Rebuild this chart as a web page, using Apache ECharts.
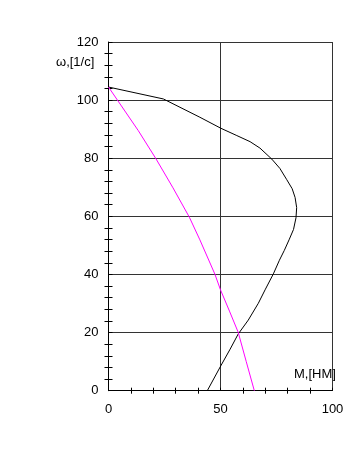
<!DOCTYPE html>
<html>
<head>
<meta charset="utf-8">
<script src="https://cdn.jsdelivr.net/npm/echarts@6/dist/echarts.min.js"></script>
<style>
  html, body { margin: 0; padding: 0; background: #fff; }
  #chart { width: 353px; height: 470px; }
</style>
</head>
<body>
<div id="chart"></div>
<script>
// M, [HM]  vs  omega, [1/c]
var blackM = [0, 24.5, 40.8, 50.2, 57.0, 63.2, 67.6, 72.9, 76.5, 79.6, 82.0, 83.3, 84.0, 83.7, 82.6, 80.6, 78.5, 76.3, 73.6, 69.9, 66.9, 62.4, 57.9, 54.3, 50.3, 44.1];
var blackW = [104.5, 100.4, 94.1, 90.3, 87.9, 85.7, 83.5, 79.7, 76.5, 72.6, 69.5, 66.5, 63.0, 59.5, 55.5, 51.9, 48.3, 44.9, 40.2, 34.7, 30.1, 24.3, 19.5, 14.3, 8.8, 0];
var pinkM = [0, 13.3, 21.2, 28.8, 36.1, 40.8, 47.5, 50, 54.0, 57.9, 61.5, 65.1];
var pinkW = [104.5, 89.5, 79.8, 69.8, 59.7, 51.9, 40.1, 34.7, 27.4, 20.1, 10.0, 0];
var xLabels = [0, 50, 100];

function pairs(xs, ys) {
  return xs.map(function (x, i) { return [x, ys[i]]; });
}

var chart = echarts.init(document.getElementById('chart'));
var font = 'Liberation Sans, Arial, sans-serif';

var options = {
  animation: false,
  grid: { left: 108.5, right: 20.5, top: 42, bottom: 79.3 },
  xAxis: [
    {
      type: 'value', min: 0, max: 100, interval: 50,
      axisLine: { lineStyle: { color: '#000', width: 1 } },
      axisTick: { show: false },
      minorTick: { show: true, splitNumber: 5, length: 3, lineStyle: { color: '#000' } },
      axisLabel: { color: '#000', fontFamily: font, fontSize: 13, margin: 12,
        formatter: function (v) { return xLabels.indexOf(v) >= 0 ? v : ''; } },
      splitLine: { show: true, lineStyle: { color: '#333', width: 1 } }
    },
    {
      type: 'value', min: 0, max: 100, interval: 50, position: 'bottom',
      axisLine: { show: false },
      axisTick: { show: true, inside: true, length: 3, lineStyle: { color: '#000' } },
      minorTick: { show: true, splitNumber: 5, length: 3, lineStyle: { color: '#000' } },
      axisLabel: { show: false },
      splitLine: { show: false }
    }
  ],
  yAxis: [
    {
      type: 'value', min: 0, max: 120, interval: 20,
      axisLine: { show: true, lineStyle: { color: '#000', width: 1 } },
      axisTick: { show: false },
      minorTick: { show: true, splitNumber: 5, length: 4, lineStyle: { color: '#000' } },
      axisLabel: { color: '#000', fontFamily: font, fontSize: 13, margin: 10 },
      splitLine: { show: true, lineStyle: { color: '#333', width: 1 } }
    },
    {
      type: 'value', min: 0, max: 120, interval: 20, position: 'left',
      axisLine: { show: false },
      axisTick: { show: true, inside: true, length: 4, lineStyle: { color: '#000' } },
      minorTick: { show: true, splitNumber: 5, length: 4, lineStyle: { color: '#000' } },
      axisLabel: { show: false },
      splitLine: { show: false }
    }
  ],
  graphic: [
    {
      type: 'text', left: 56, top: 56,
      style: { text: 'ω,[1/c]', fill: '#000', font: '13px ' + font }
    },
    {
      type: 'text', left: 294, top: 368,
      style: { text: 'M,[HM]', fill: '#000', font: '13px ' + font }
    }
  ],
  series: [
    {
      type: 'line', smooth: false, symbol: 'none',
      lineStyle: { color: '#000', width: 1 },
      data: pairs(blackM, blackW)
    },
    {
      type: 'line', smooth: false, symbol: 'none',
      lineStyle: { color: '#ff00ff', width: 1 },
      data: pairs(pinkM, pinkW)
    }
  ]
};

chart.setOption(options);
</script>
</body>
</html>
